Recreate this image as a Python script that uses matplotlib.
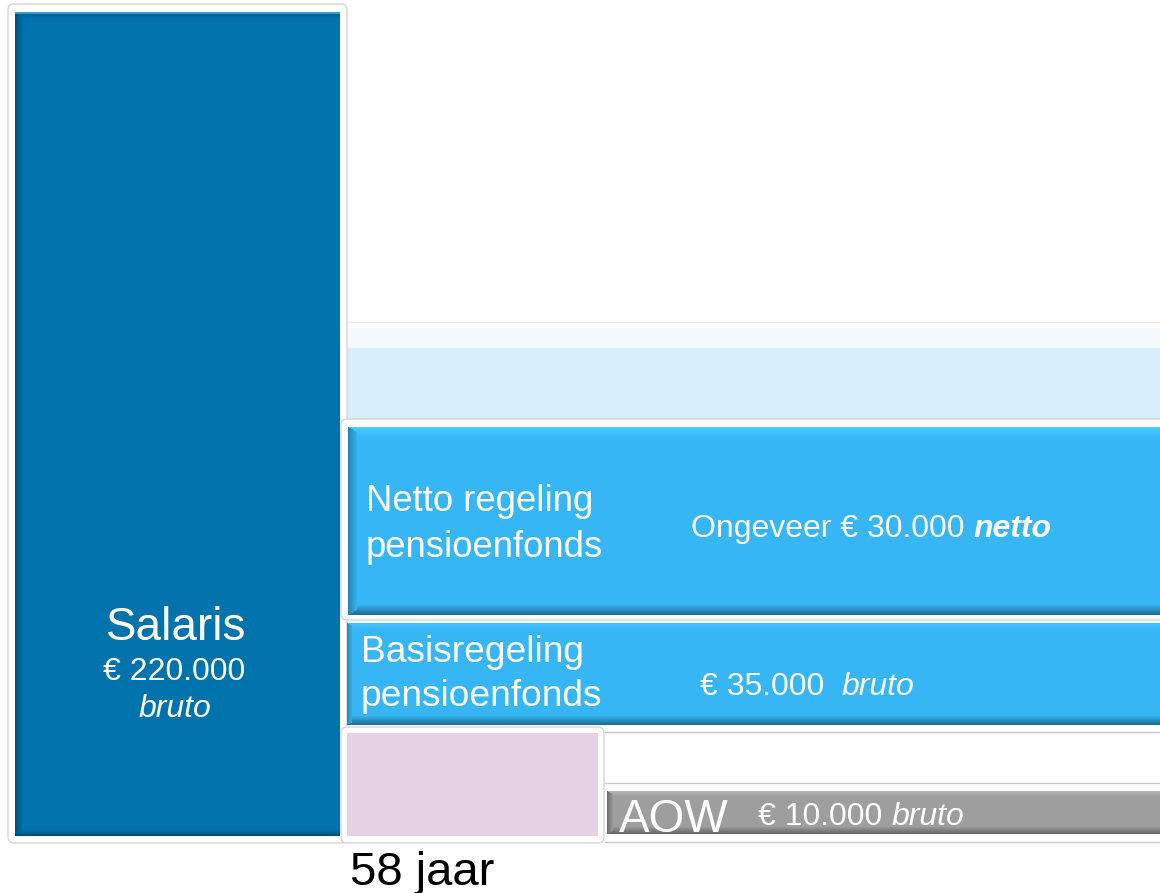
import matplotlib
matplotlib.use("Agg")
import matplotlib.pyplot as plt
from matplotlib.patches import FancyBboxPatch
from matplotlib.colors import to_rgb
import numpy as np

# ---------------- data ----------------
categories = ["Salaris", "Netto regeling\npensioenfonds", "Basisregeling\npensioenfonds", "AOW"]
amounts = [220000, 30000, 35000, 10000]
amount_prefix = ["", "Ongeveer ", "", ""]
qualifiers = ["bruto", "netto", "bruto", "bruto"]
age_label = "58 jaar"


def fmt_eur(v):
    return "€ " + f"{v:,}".replace(",", ".")


# ---------------- style / layout ----------------
plt.rcParams['font.family'] = ['Liberation Sans', 'DejaVu Sans']
W, H = 1160, 893
fig = plt.figure(figsize=(W / 100, H / 100), dpi=100)
ax = fig.add_axes([0, 0, 1, 1])
ax.set_xlim(0, W)
ax.set_ylim(H, 0)
ax.axis('off')

C_DARK = "#0073AD"
C_MID = "#37B6F6"
C_LIGHT = "#D8EEFB"
C_PINK = "#E6D1E5"
C_GREY = "#9E9E9E"
C_LINE = "#C8C8C8"


def mix(c1, c2, t):
    a, b = np.array(to_rgb(c1)), np.array(to_rgb(c2))
    return tuple(a * (1 - t) + b * t)


def bar(x0, x1, y0, y1, color, z=2):
    ax.bar(x0, y1 - y0, width=x1 - x0, bottom=y0, align='edge', color=color, lw=0, zorder=z)


def bevel_bar(x0, x1, y0, y1, base, top=None, bottom=None, left=None,
              ntop=8, nbot=9, nleft=8, z=2):
    bar(x0, x1, y0, y1, base, z)
    if top is not None:
        for i in range(ntop):
            bar(x0, x1, y0 + i, y0 + i + 1, mix(top, base, i / ntop), z + 0.1)
    if bottom is not None:
        for i in range(nbot):
            bar(x0, x1, y1 - i - 1, y1 - i, mix(bottom, base, i / nbot), z + 0.1)
    if left is not None:
        for i in range(nleft):
            bar(x0 + i, x0 + i + 1, y0 + i * 0.6, y1 - i * 0.6, mix(left, base, i / nleft), z + 0.2)


def frame(x0, x1, y0, y1, z=1.5):
    p = FancyBboxPatch((x0, y0), x1 - x0, y1 - y0,
                       boxstyle="round,pad=0,rounding_size=6",
                       fc="white", ec="#D6D6D6", lw=1.0, zorder=z)
    ax.add_patch(p)


def hline(y, x0, x1, color=C_LINE, lw=1.0, z=1.2):
    ax.plot([x0, x1], [y, y], color=color, lw=lw, zorder=z, solid_capstyle='butt')


def pieces(x, y, parts, size, z=5):
    """Draw consecutive text pieces on one baseline."""
    r = fig.canvas.get_renderer()
    for txt, style, weight in parts:
        t = ax.text(x, y, txt, fontsize=size, color="white", style=style,
                    weight=weight, ha='left', va='baseline', zorder=z)
        bb = t.get_window_extent(renderer=r)
        x += bb.width  # 1 data unit == 1 pixel


# ---- light band above the pension blocks
hline(322, 347, W, color="#EDEDED")
bar(347, W, 328, 348, "#F3F9FE", 1)
bar(347, W, 348, 418, C_LIGHT, 1)
hline(418.5, 347, W, color="#A9BCC6")

# ---- salary column
frame(8, 347, 4, 843)
bevel_bar(15, 340, 12, 836, C_DARK, top="#005E90", bottom="#004F78", left="#004F7A",
          ntop=7, nbot=6, nleft=8)
bar(15, 340, 12, 13.5, "#3A9BD0", 2.5)

# ---- netto block
frame(341, W + 10, 419, 620)
bevel_bar(348, W, 427, 615, C_MID, top="#45CDFF", bottom="#1E6A92", left="#2583B3",
          ntop=10, nbot=10, nleft=9)

# ---- basis block
bevel_bar(347, W, 623, 725, C_MID, top="#40C6FF", bottom="#1E6A92", left="#2A8CBD",
          ntop=6, nbot=9, nleft=5)

# ---- grey guide lines
hline(732, 604, W)
hline(783, 604, W)
hline(842, 604, W)

# ---- pink block
frame(341, 604, 727, 843)
bar(347, 598, 733, 836, C_PINK, 2)

# ---- AOW bar
bevel_bar(607, W, 791, 834, C_GREY, top="#B4B4B4", bottom="#666666", left="#707070",
          ntop=5, nbot=7, nleft=6)

# ---------------- texts ----------------
# Salary
ax.text(176, 640, categories[0], fontsize=33, color="white", ha='center', va='baseline', zorder=5)
ax.text(174, 680, fmt_eur(amounts[0]), fontsize=23, color="white", ha='center', va='baseline', zorder=5)
ax.text(175, 717, qualifiers[0], fontsize=23, color="white", style='italic',
        ha='center', va='baseline', zorder=5)

# Netto regeling
l1, l2 = categories[1].split("\n")
ax.text(366, 511, l1, fontsize=26.3, color="white", ha='left', va='baseline', zorder=5)
ax.text(366, 557, l2, fontsize=26.3, color="white", ha='left', va='baseline', zorder=5)
pieces(691, 537, [(amount_prefix[1] + fmt_eur(amounts[1]) + " ", 'normal', 'normal'),
                  (qualifiers[1], 'italic', 'bold')], 23)

# Basisregeling
l1, l2 = categories[2].split("\n")
ax.text(361, 662, l1, fontsize=26.7, color="white", ha='left', va='baseline', zorder=5)
ax.text(361, 706, l2, fontsize=26.7, color="white", ha='left', va='baseline', zorder=5)
pieces(700, 695, [(fmt_eur(amounts[2]) + "  ", 'normal', 'normal'),
                  (qualifiers[2], 'italic', 'normal')], 23)

# AOW
ax.text(619, 832, categories[3], fontsize=33, color="white", ha='left', va='baseline', zorder=5)
pieces(758, 825, [(fmt_eur(amounts[3]) + " ", 'normal', 'normal'),
                  (qualifiers[3], 'italic', 'normal')], 23)

# Age label
ax.text(350, 885, age_label, fontsize=34, color="black", ha='left', va='baseline', zorder=5)

fig.savefig("out.png", dpi=100, facecolor="white")
